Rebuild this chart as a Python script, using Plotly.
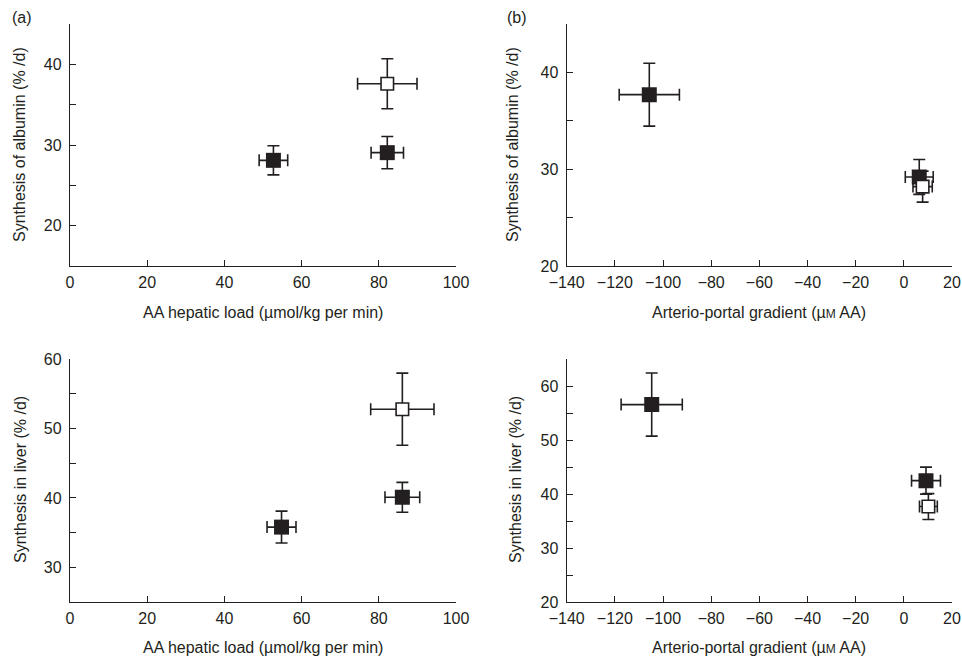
import plotly.graph_objects as go

# ---- data ----
# Panel (a) top: albumin synthesis vs AA hepatic load
a_top_filled_x = [52.7, 82.2]
a_top_filled_xerr = [3.7, 4.2]
a_top_filled_y = [28.1, 29.05]
a_top_filled_yerr = [1.8, 2.0]
a_top_open_x = [82.2]
a_top_open_xerr = [7.7]
a_top_open_y = [37.6]
a_top_open_yerr = [3.1]

# Panel (b) top: albumin synthesis vs arterio-portal gradient
b_top_filled_x = [-105.7, 6.4]
b_top_filled_xerr = [12.5, 5.8]
b_top_filled_y = [37.7, 29.2]
b_top_filled_yerr = [3.25, 1.8]
b_top_open_x = [7.8]
b_top_open_xerr = [4.0]
b_top_open_y = [28.2]
b_top_open_yerr = [1.6]

# Panel (a) bottom: liver synthesis vs AA hepatic load
a_bot_filled_x = [54.8, 86.1]
a_bot_filled_xerr = [3.75, 4.5]
a_bot_filled_y = [35.8, 40.1]
a_bot_filled_yerr = [2.3, 2.15]
a_bot_open_x = [86.1]
a_bot_open_xerr = [8.2]
a_bot_open_y = [52.8]
a_bot_open_yerr = [5.2]

# Panel (b) bottom: liver synthesis vs arterio-portal gradient
b_bot_filled_x = [-104.7, 9.2]
b_bot_filled_xerr = [12.7, 6.0]
b_bot_filled_y = [56.6, 42.5]
b_bot_filled_yerr = [5.85, 2.5]
b_bot_open_x = [10.2]
b_bot_open_xerr = [3.7]
b_bot_open_y = [37.7]
b_bot_open_yerr = [2.4]

x_a_ticks = [0, 20, 40, 60, 80, 100]
x_b_ticks = [-140, -120, -100, -80, -60, -40, -20, 0, 20]

y_a_top_ticks = [15, 20, 25, 30, 35, 40, 45]
y_b_top_ticks = [20, 25, 30, 35, 40, 45]
y_a_bot_ticks = [25, 30, 35, 40, 45, 50, 55, 60]
y_b_bot_ticks = [20, 25, 30, 35, 40, 45, 50, 55, 60, 65]

ylabel_albumin = "Synthesis of albumin (% /d)"
ylabel_liver = "Synthesis in liver (% /d)"
xlabel_load = "AA hepatic load (µmol/kg per min)"
xlabel_grad = "Arterio-portal gradient (µ<span style='font-size:12px'>M</span> AA)"

W, H = 962, 659
INK = "#231f20"
FONT = "Liberation Sans, Arial, sans-serif"
FS = 16

fig = go.Figure()


def px_x(p):
    return p / W


def px_y(p):
    return 1 - p / H


def add_pair(xa, ya, fx, fxe, fy, fye, ox, oxe, oy, oye):
    err = dict(color=INK, thickness=1.6, width=6)
    fig.add_trace(go.Scatter(
        x=fx, y=fy, mode="markers", xaxis=xa, yaxis=ya,
        error_x=dict(type="data", array=fxe, **err),
        error_y=dict(type="data", array=fye, **err),
        marker=dict(symbol="square", size=15, color=INK, line=dict(width=0)),
        showlegend=False, hoverinfo="x+y"))
    fig.add_trace(go.Scatter(
        x=ox, y=oy, mode="markers", xaxis=xa, yaxis=ya,
        error_x=dict(type="data", array=oxe, **err),
        error_y=dict(type="data", array=oye, **err),
        marker=dict(symbol="square", size=12.5, color="white", line=dict(width=1.6, color=INK)),
        showlegend=False, hoverinfo="x+y"))


add_pair("x", "y", a_top_filled_x, a_top_filled_xerr, a_top_filled_y, a_top_filled_yerr,
         a_top_open_x, a_top_open_xerr, a_top_open_y, a_top_open_yerr)
add_pair("x2", "y2", b_top_filled_x, b_top_filled_xerr, b_top_filled_y, b_top_filled_yerr,
         b_top_open_x, b_top_open_xerr, b_top_open_y, b_top_open_yerr)
add_pair("x3", "y3", a_bot_filled_x, a_bot_filled_xerr, a_bot_filled_y, a_bot_filled_yerr,
         a_bot_open_x, a_bot_open_xerr, a_bot_open_y, a_bot_open_yerr)
add_pair("x4", "y4", b_bot_filled_x, b_bot_filled_xerr, b_bot_filled_y, b_bot_filled_yerr,
         b_bot_open_x, b_bot_open_xerr, b_bot_open_y, b_bot_open_yerr)


def xaxis(dom, rng, ticks, anchor):
    return dict(domain=dom, range=rng, tickvals=ticks,
                ticktext=[str(t) if t >= 0 else "\u2212" + str(-t) for t in ticks],
                showline=True, linecolor=INK, linewidth=1.3, ticks="inside", ticklen=6,
                tickcolor=INK, tickwidth=1.3, showgrid=False, zeroline=False,
                anchor=anchor, ticklabelstandoff=2, fixedrange=True, automargin=False,
                tickfont=dict(family=FONT, size=FS, color=INK))


def yaxis(dom, rng, ticks, anchor):
    text = [str(t) if t % 10 == 0 else "" for t in ticks]
    return dict(domain=dom, range=rng, tickvals=ticks, ticktext=text,
                showline=True, linecolor=INK, linewidth=1.3, ticks="inside", ticklen=6,
                tickcolor=INK, tickwidth=1.3, showgrid=False, zeroline=False,
                anchor=anchor, ticklabelstandoff=4, fixedrange=True, automargin=False,
                tickfont=dict(family=FONT, size=FS, color=INK))


xa_dom = [px_x(70), px_x(456)]
xb_dom = [px_x(566.7), px_x(952)]
ytop_dom = [px_y(266), px_y(24)]
ybot_dom = [px_y(602), px_y(359.3)]

fig.update_layout(
    width=W, height=H,
    margin=dict(l=0, r=0, t=0, b=0),
    paper_bgcolor="white", plot_bgcolor="white",
    font=dict(family=FONT, size=FS, color=INK),
    xaxis=xaxis(xa_dom, [0, 100], x_a_ticks, "y"),
    yaxis=yaxis(ytop_dom, [15, 45], y_a_top_ticks, "x"),
    xaxis2=xaxis(xb_dom, [-140, 20], x_b_ticks, "y2"),
    yaxis2=yaxis(ytop_dom, [20, 45], y_b_top_ticks, "x2"),
    xaxis3=xaxis(xa_dom, [0, 100], x_a_ticks, "y3"),
    yaxis3=yaxis(ybot_dom, [25, 60], y_a_bot_ticks, "x3"),
    xaxis4=xaxis(xb_dom, [-140, 20], x_b_ticks, "y4"),
    yaxis4=yaxis(ybot_dom, [20, 65], y_b_bot_ticks, "x4"),
)

ann = []


def add_text(text, x, y, angle=0, xanchor="center"):
    ann.append(dict(text=text, x=px_x(x), y=px_y(y), xref="paper", yref="paper",
                    showarrow=False, textangle=angle, xanchor=xanchor, yanchor="middle",
                    font=dict(family=FONT, size=FS, color=INK)))


add_text("(a)", 10, 18, xanchor="left")
add_text("(b)", 505, 18, xanchor="left")
add_text(ylabel_albumin, 20, 145, angle=-90)
add_text(ylabel_albumin, 513, 145, angle=-90)
add_text(ylabel_liver, 20, 480, angle=-90)
add_text(ylabel_liver, 515, 480, angle=-90)
add_text(xlabel_load, 263, 313)
add_text(xlabel_grad, 759, 313)
add_text(xlabel_load, 263, 647)
add_text(xlabel_grad, 759, 647)

fig.update_layout(annotations=ann)

fig.write_html(
    "out.html",
    config={"displayModeBar": False},
    post_script="document.body.style.margin='0';document.body.style.overflow='hidden';",
)
